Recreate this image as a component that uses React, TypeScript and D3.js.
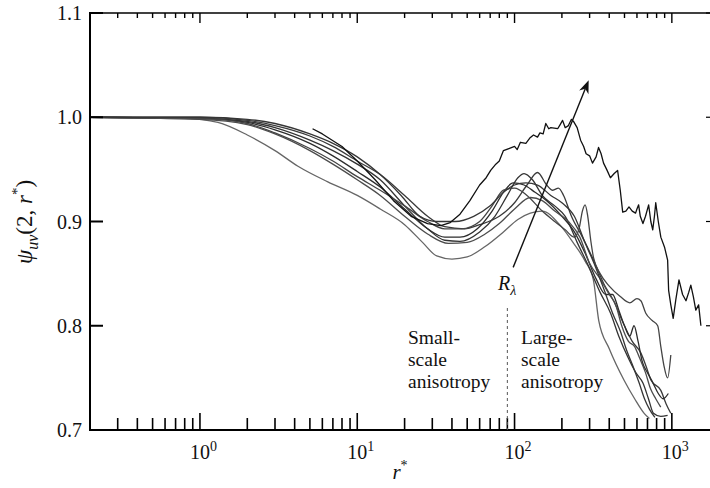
import React from "react";
import * as d3 from "d3";

// psi_uv(2, r*) curves, [r*, value]
const curveA = [[0.2,1.0],[0.8,0.999],[1.3,0.995],[2,0.983],[3,0.968],[4.2,0.953],[6.5,0.938],[10,0.925],[14,0.912],[20,0.897],[26,0.88],[32,0.867],[40,0.864],[50,0.866],[65,0.876],[85,0.89],[105,0.902],[126,0.908],[150,0.91],[196,0.896],[240,0.878],[281,0.862],[317,0.844],[343,0.805],[400,0.778],[496,0.748],[580,0.73],[667,0.716],[720,0.711]];
const curveB = [[0.2,1.0],[1,0.999],[2,0.996],[3,0.99],[5,0.978],[7,0.968],[10,0.955],[14,0.94],[20,0.915],[28,0.893],[36,0.882],[45,0.881],[60,0.89],[75,0.905],[90,0.925],[105,0.942],[115,0.946],[130,0.94],[150,0.925],[180,0.915],[210,0.905],[250,0.88],[300,0.855],[350,0.832],[408,0.812],[460,0.79],[525,0.77],[590,0.755],[655,0.745],[710,0.73],[764,0.716],[850,0.713],[940,0.714]];
const curveC = [[0.2,1.0],[1,1.0],[2,0.997],[3,0.992],[5,0.982],[7,0.972],[10,0.958],[14,0.945],[20,0.925],[28,0.905],[36,0.895],[48,0.893],[60,0.897],[80,0.905],[100,0.918],[120,0.935],[140,0.947],[160,0.935],[175,0.93],[190,0.932],[205,0.925],[230,0.905],[270,0.885],[320,0.862],[370,0.84],[426,0.824],[500,0.80],[560,0.785],[635,0.774],[690,0.76],[736,0.748],[851,0.738],[920,0.725],[985,0.716]];
const curveD = [[0.2,1.0],[1,0.999],[2,0.995],[3,0.988],[5,0.975],[7,0.963],[10,0.948],[14,0.933],[20,0.912],[28,0.893],[36,0.885],[45,0.885],[58,0.893],[72,0.91],[85,0.928],[98,0.937],[115,0.935],[135,0.928],[160,0.92],[200,0.905],[240,0.89],[280,0.87],[330,0.845],[380,0.83],[420,0.83],[460,0.815],[500,0.80],[540,0.79],[575,0.80],[610,0.785],[650,0.765],[700,0.755],[760,0.745],[820,0.735],[880,0.73],[950,0.735]];
const curveE = [[0.2,1.0],[1,0.999],[2,0.994],[3,0.985],[5,0.97],[7,0.958],[10,0.943],[14,0.93],[20,0.915],[28,0.9],[36,0.893],[46,0.893],[60,0.9],[72,0.915],[85,0.93],[100,0.932],[120,0.925],[150,0.91],[180,0.9],[210,0.892],[240,0.885],[258,0.894],[270,0.91],[281,0.916],[292,0.905],[305,0.882],[318,0.865],[350,0.85],[400,0.838],[470,0.828],[540,0.822],[600,0.826],[635,0.824],[683,0.812],[750,0.805],[813,0.80],[851,0.78],[890,0.762],[940,0.75],[985,0.772]];
const curveF = [[0.2,1.0],[1,0.998],[2,0.993],[3,0.984],[5,0.968],[7,0.955],[10,0.94],[14,0.925],[20,0.905],[28,0.888],[38,0.879],[50,0.88],[65,0.888],[80,0.898],[100,0.912],[126,0.923],[150,0.92],[180,0.91],[220,0.9],[260,0.885],[300,0.86],[350,0.845],[400,0.83],[440,0.82],[480,0.80],[530,0.785],[580,0.78],[620,0.77],[680,0.755],[730,0.74],[790,0.73],[850,0.722]];
const curveG = [[0.2,1.0],[1,1.0],[2,0.998],[3,0.994],[5,0.984],[7,0.975],[10,0.962],[14,0.945],[19,0.925],[25,0.905],[32,0.9],[42,0.9],[55,0.905],[70,0.915],[85,0.928],[100,0.935],[118,0.937],[140,0.935],[170,0.925],[200,0.918],[240,0.905],[280,0.88],[320,0.86],[370,0.835],[420,0.812],[470,0.795],[520,0.775],[570,0.76],[620,0.745],[670,0.73],[720,0.72],[780,0.712]];
// highest R_lambda, noisy
const curveTop = [[5.2,0.989],[6,0.984],[8,0.972],[10,0.958],[13,0.94],[17,0.92],[22,0.905],[28,0.898],[34,0.896],[39,0.899],[45,0.907],[52,0.92],[60,0.935],[66,0.942],[70.5,0.949],[76,0.955],[80,0.958],[85,0.968],[92,0.97],[100,0.972],[104,0.969],[109,0.976],[118,0.975],[125,0.98],[132,0.983],[140,0.981],[145,0.985],[152,0.984],[158,0.994],[165,0.989],[170,0.99],[188,0.989],[195,0.993],[202,0.997],[210,0.99],[220,0.992],[230,0.998],[237,0.996],[250,0.99],[263,0.978],[275,0.972],[285,0.965],[300,0.963],[313,0.956],[330,0.962],[342,0.971],[355,0.965],[368,0.956],[385,0.95],[407,0.942],[430,0.946],[452,0.949],[470,0.93],[487,0.909],[510,0.91],[534,0.914],[560,0.91],[588,0.908],[600,0.912],[615,0.916],[630,0.905],[655,0.898],[680,0.905],[712,0.916],[735,0.9],[756,0.892],[775,0.905],[790,0.918],[820,0.9],[851,0.885],[900,0.875],[940,0.863],[954,0.834],[985,0.82],[1020,0.807],[1060,0.825],[1110,0.844],[1170,0.83],[1230,0.824],[1280,0.832],[1320,0.839],[1370,0.828],[1420,0.815],[1480,0.82],[1530,0.80]];

const smoothCurves = [curveA, curveB, curveC, curveD, curveE, curveF, curveG];
const curveGreys = ["#666", "#333", "#3a3a3a", "#2c2c2c", "#444", "#4c4c4c", "#363636"];

const yTickValues = [0.7, 0.8, 0.9, 1.0, 1.1];
const yTickLabels = ["0.7", "0.8", "0.9", "1.0", "1.1"];
const xMajorValues = [1, 10, 100, 1000];
const xMajorExponents = ["0", "1", "2", "3"];

const W = 710, H = 488;
const left = 90, right = 712, top = 13, bottom = 430;
const FONT = "'Liberation Serif', 'Times New Roman', serif";

export default function App() {
  const x = d3.scaleLog().domain([0.2, 1800]).range([left, right]);
  const y = d3.scaleLinear().domain([0.7, 1.1]).range([bottom, top]);

  const smooth = d3.line<number[]>().x(d => x(d[0])).y(d => y(d[1])).curve(d3.curveMonotoneX);
  const jagged = d3.line<number[]>().x(d => x(d[0])).y(d => y(d[1]));

  const xTicks = x.ticks().filter(t => t > 0.2);
  const isMajor = (t: number) => xMajorValues.some(m => Math.abs(m - t) < 1e-9);

  // arrow for R_lambda
  const a0 = [x(98), y(0.856)];
  const a1 = [x(296), y(1.0355)];
  const ang = Math.atan2(a1[1] - a0[1], a1[0] - a0[0]);
  const hl = 13, hw = 5;
  const head = [
    [a1[0], a1[1]],
    [a1[0] - hl * Math.cos(ang) + hw * Math.sin(ang), a1[1] - hl * Math.sin(ang) - hw * Math.cos(ang)],
    [a1[0] - hl * 0.7 * Math.cos(ang), a1[1] - hl * 0.7 * Math.sin(ang)],
    [a1[0] - hl * Math.cos(ang) - hw * Math.sin(ang), a1[1] - hl * Math.sin(ang) + hw * Math.cos(ang)],
  ];

  const divider = x(90);

  return (
    <svg width={W} height={H} style={{ position: "absolute", left: 0, top: 0, background: "#fff" }} fontFamily={FONT}>
      <defs>
        <clipPath id="plot">
          <rect x={left} y={top} width={right - left} height={bottom - top} />
        </clipPath>
      </defs>

      {/* curves */}
      <g clipPath="url(#plot)" fill="none">
        {smoothCurves.map((c, i) => (
          <path key={i} d={smooth(c) || ""} stroke={curveGreys[i]} strokeWidth={1.3} />
        ))}
        <path d={jagged(curveTop) || ""} stroke="#111" strokeWidth={1.3} strokeLinejoin="round" />
      </g>

      {/* frame */}
      <g stroke="#000" fill="none">
        <line x1={left} x2={left} y1={top - 1} y2={bottom + 1} strokeWidth={2} />
        <line x1={left} x2={W} y1={bottom} y2={bottom} strokeWidth={2} />
        <line x1={left} x2={W} y1={top} y2={top} strokeWidth={1.5} />
        {xTicks.map((t, i) => (
          <g key={i}>
            <line x1={x(t)} x2={x(t)} y1={bottom} y2={bottom - (isMajor(t) ? 17 : 12)} strokeWidth={1.6} />
            <line x1={x(t)} x2={x(t)} y1={top} y2={top + (isMajor(t) ? 10 : 5)} strokeWidth={1.4} />
          </g>
        ))}
        {yTickValues.map((v, i) => (
          <g key={i}>
            <line x1={left} x2={left + 13} y1={y(v)} y2={y(v)} strokeWidth={2} />
            <line x1={W - 4} x2={W} y1={y(v)} y2={y(v)} strokeWidth={1.2} />
          </g>
        ))}
      </g>

      {/* tick labels */}
      {yTickValues.map((v, i) => (
        <text key={i} x={82} y={y(v) + 7} textAnchor="end" fontSize={20} fill="#111">{yTickLabels[i]}</text>
      ))}
      {xMajorValues.map((v, i) => (
        <text key={i} x={x(v) - 10} y={459} fontSize={20} fill="#111">
          10<tspan dy={-8} fontSize={14}>{xMajorExponents[i]}</tspan>
        </text>
      ))}

      {/* axis titles */}
      <text x={400} y={479} fontSize={21} fontStyle="italic" textAnchor="middle" fill="#111">
        r<tspan dy={-9} fontSize={14} fontStyle="normal">*</tspan>
      </text>
      <text transform="translate(32,222) rotate(-90)" fontSize={23} textAnchor="middle" fill="#111">
        <tspan fontStyle="italic">ψ</tspan>
        <tspan fontStyle="italic" fontSize={16} dy={6}>uv</tspan>
        <tspan dy={-6}>(2, </tspan>
        <tspan fontStyle="italic">r</tspan>
        <tspan fontSize={15} dy={-10}>*</tspan>
        <tspan dy={10}>)</tspan>
      </text>

      {/* annotations */}
      <line x1={divider} x2={divider} y1={308} y2={bottom} stroke="#555" strokeWidth={1} strokeDasharray="3,3" />
      <g fontSize={19.5} fill="#111">
        <text x={408} y={344}>Small-</text>
        <text x={408} y={366}>scale</text>
        <text x={408} y={388}>anisotropy</text>
        <text x={521} y={344}>Large-</text>
        <text x={521} y={366}>scale</text>
        <text x={521} y={388}>anisotropy</text>
      </g>
      <text x={498} y={290} fontSize={20} fontStyle="italic" fill="#111">
        R<tspan fontSize={14} dy={5}>λ</tspan>
      </text>
      <line x1={a0[0]} y1={a0[1]} x2={head[2][0]} y2={head[2][1]} stroke="#111" strokeWidth={1.4} />
      <polygon points={head.map(p => p.join(",")).join(" ")} fill="#111" />
    </svg>
  );
}
